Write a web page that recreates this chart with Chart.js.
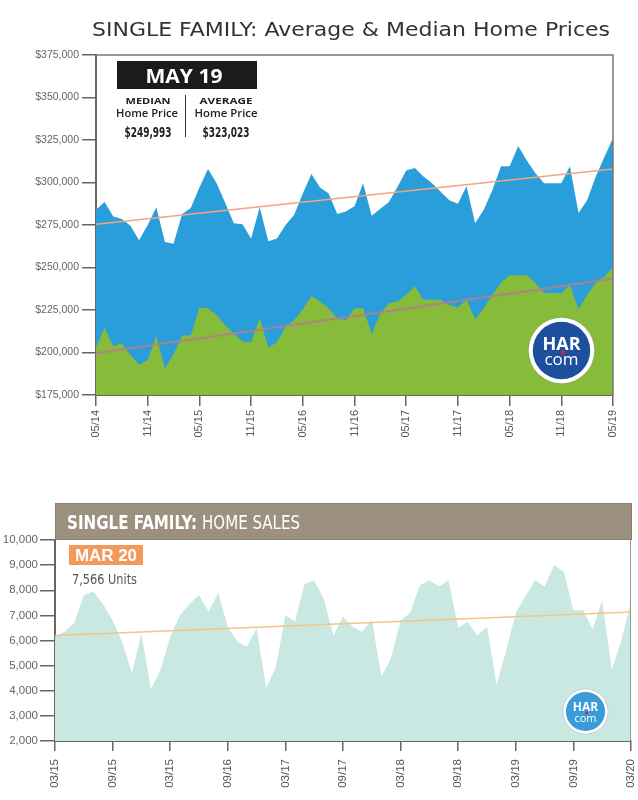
<!DOCTYPE html>
<html>
<head>
<meta charset="utf-8">
<script src="https://cdn.jsdelivr.net/npm/chart.js@4.4.1/dist/chart.umd.min.js"></script>
<style>
  html, body { margin: 0; padding: 0; background: #fff; }
  #wrap { position: relative; width: 638px; height: 800px; }
  #priceChart { position: absolute; left: 0; top: 0; }
  #salesChart { position: absolute; left: 0; top: 490px; }
</style>
</head>
<body>
<div id="wrap">
  <canvas id="priceChart" width="638" height="450"></canvas>
  <canvas id="salesChart" width="638" height="310"></canvas>
</div>
<script>
// top chart: monthly prices, May 2014 - May 2019
const priceMonths = [
  "05/14","06/14","07/14","08/14","09/14","10/14","11/14","12/14",
  "01/15","02/15","03/15","04/15","05/15","06/15","07/15","08/15","09/15","10/15","11/15","12/15",
  "01/16","02/16","03/16","04/16","05/16","06/16","07/16","08/16","09/16","10/16","11/16","12/16",
  "01/17","02/17","03/17","04/17","05/17","06/17","07/17","08/17","09/17","10/17","11/17","12/17",
  "01/18","02/18","03/18","04/18","05/18","06/18","07/18","08/18","09/18","10/18","11/18","12/18",
  "01/19","02/19","03/19","04/19","05/19"
];
const priceTickLabels = ["05/14","11/14","05/15","11/15","05/16","11/16","05/17","11/17","05/18","11/18","05/19"];

const averagePrice = [
  284000, 288500, 280000, 278500, 274500, 266000, 275000, 285500, 265000, 264000,
  281500, 285000, 297000, 308000, 299500, 288000, 276000, 275500, 267000, 285500,
  265500, 267000, 275000, 281000, 293500, 305000, 297000, 293500, 281500, 283000,
  286000, 299500, 280500, 284500, 288500, 297500, 307000, 308500, 303500, 299500,
  294500, 289500, 287500, 298000, 276000, 284000, 295500, 309500, 309500, 321500,
  313000, 305500, 299500, 299500, 299500, 309500, 282000, 289500, 303500, 315000,
  326000
];
const medianPrice = [
  203000, 214500, 203500, 205500, 198500, 193000, 195500, 209500, 190500, 199000,
  210000, 210000, 226500, 226000, 222000, 216000, 211000, 206500, 206000, 220000,
  203000, 206000, 215000, 219000, 225500, 233300, 230000, 226000, 220000, 219000,
  226000, 226000, 211000, 223000, 229000, 230000, 234000, 239000, 231000, 231000,
  231000, 228000, 226500, 231000, 219500, 226000, 234000, 241000, 245500, 245500,
  245500, 241000, 235000, 235000, 235000, 239500, 225500, 234000, 241000, 244500,
  250000
];
// trend lines: value at first and last month
const averageTrend = [275500, 308000];
const medianTrend = [199600, 243400];

// bottom chart: monthly home sales, Mar 2015 - Mar 2020
const salesMonths = [
  "03/15","04/15","05/15","06/15","07/15","08/15","09/15","10/15","11/15","12/15",
  "01/16","02/16","03/16","04/16","05/16","06/16","07/16","08/16","09/16","10/16","11/16","12/16",
  "01/17","02/17","03/17","04/17","05/17","06/17","07/17","08/17","09/17","10/17","11/17","12/17",
  "01/18","02/18","03/18","04/18","05/18","06/18","07/18","08/18","09/18","10/18","11/18","12/18",
  "01/19","02/19","03/19","04/19","05/19","06/19","07/19","08/19","09/19","10/19","11/19","12/19",
  "01/20","02/20","03/20"
];
const salesTickLabels = ["03/15","09/15","03/15","09/16","03/17","09/17","03/18","09/18","03/19","09/19","03/20"];

const homeSales = [
  6150, 6350, 6700, 7800, 7950, 7450, 6800, 5950, 4700, 6250,
  4050, 4850, 6150, 7000, 7450, 7800, 7150, 7900, 6550, 5950,
  5750, 6500, 4100, 4950, 7000, 6750, 8250, 8400, 7650, 6200,
  6950, 6550, 6350, 6850, 4550, 5300, 6800, 7100, 8200, 8400,
  8150, 8400, 6500, 6750, 6200, 6550, 4250, 5600, 7100, 7750,
  8400, 8150, 9000, 8750, 7200, 7200, 6450, 7600, 4850, 6000,
  7566
];
const salesTrend = [6200, 7130];

const narrow = "'Liberation Sans Narrow', 'DejaVu Sans Condensed', sans-serif";

// draw text squeezed or stretched to a given width
function fitText(ctx, text, x, y, width, align) {
  const w = ctx.measureText(text).width;
  const sx = width / w;
  ctx.save();
  ctx.textAlign = "left";
  let left = x;
  if (align === "center") left = x - width / 2;
  if (align === "right") left = x - width;
  ctx.translate(left, y);
  ctx.scale(sx, 1);
  ctx.fillText(text, 0, 0);
  ctx.restore();
}

function drawLogo(ctx, cx, cy, r, fill, big) {
  ctx.save();
  ctx.fillStyle = "#fff";
  ctx.beginPath();
  ctx.arc(cx, cy, r, 0, Math.PI * 2);
  ctx.fill();
  ctx.strokeStyle = "rgba(0,0,0,0.12)";
  ctx.lineWidth = 1;
  ctx.stroke();
  ctx.fillStyle = fill;
  ctx.beginPath();
  ctx.arc(cx, cy, r * 0.87, 0, Math.PI * 2);
  ctx.fill();
  ctx.fillStyle = "#fff";
  ctx.textAlign = "center";
  ctx.textBaseline = "alphabetic";
  ctx.font = "bold " + big + "px 'Open Sans', sans-serif";
  ctx.fillText("HAR", cx, cy - r * 0.02);
  ctx.font = Math.round(big * 0.95) + "px 'Open Sans', sans-serif";
  ctx.fillText("com", cx, cy + r * 0.45);
  ctx.fillStyle = "#d0253a";
  ctx.beginPath();
  ctx.arc(cx + r * 0.05, cy + r * 0.06, r * 0.07, 0, Math.PI * 2);
  ctx.fill();
  ctx.restore();
}

const priceExtras = {
  id: "priceExtras",
  afterDraw(chart) {
    const ctx = chart.ctx;
    const a = chart.chartArea;
    ctx.save();
    ctx.strokeStyle = "#777";
    ctx.lineWidth = 1.5;
    ctx.beginPath();
    ctx.moveTo(a.left, a.top);
    ctx.lineTo(a.right, a.top);
    ctx.lineTo(a.right, a.bottom);
    ctx.stroke();

    ctx.fillStyle = "#333";
    ctx.font = "20px 'DejaVu Sans', sans-serif";
    fitText(ctx, "SINGLE FAMILY: Average & Median Home Prices", 92, 36, 518, "left");

    // MAY 19 box
    ctx.fillStyle = "#1b1b1b";
    ctx.fillRect(117, 61, 140, 28);
    ctx.fillStyle = "#fff";
    ctx.font = "bold 20px 'Open Sans', sans-serif";
    fitText(ctx, "MAY 19", 184, 83, 77, "center");

    ctx.fillStyle = "#222";
    ctx.font = "bold 9px 'Open Sans', sans-serif";
    fitText(ctx, "MEDIAN", 148, 104, 45, "center");
    fitText(ctx, "AVERAGE", 226, 104, 53, "center");
    ctx.font = "600 10px 'Open Sans', sans-serif";
    fitText(ctx, "Home Price", 147, 117, 62, "center");
    fitText(ctx, "Home Price", 226, 117, 63, "center");
    ctx.font = "bold 14px " + narrow;
    fitText(ctx, "$249,993", 148, 137, 47, "center");
    fitText(ctx, "$323,023", 226, 137, 47, "center");
    ctx.strokeStyle = "#333";
    ctx.lineWidth = 1;
    ctx.beginPath();
    ctx.moveTo(185.5, 95);
    ctx.lineTo(185.5, 137);
    ctx.stroke();
    ctx.restore();

    drawLogo(ctx, 561.5, 350.5, 33, "#1d4f9e", 18);
  }
};

const salesExtras = {
  id: "salesExtras",
  afterDraw(chart) {
    const ctx = chart.ctx;
    const a = chart.chartArea;
    ctx.save();
    ctx.strokeStyle = "#999";
    ctx.lineWidth = 1;
    ctx.beginPath();
    ctx.moveTo(a.right - 0.5, a.top);
    ctx.lineTo(a.right - 0.5, a.bottom);
    ctx.stroke();

    // header band
    ctx.fillStyle = "#9c917e";
    ctx.fillRect(a.left, a.top - 37, a.right - a.left + 1, 37);
    ctx.strokeStyle = "#8a8070";
    ctx.strokeRect(a.left + 0.5, a.top - 36.5, a.right - a.left, 36);
    ctx.fillStyle = "#fff";
    ctx.font = "bold 19px " + narrow;
    fitText(ctx, "SINGLE FAMILY:", 67, 39, 130, "left");
    ctx.font = "19px " + narrow;
    fitText(ctx, "HOME SALES", 202, 39, 98, "left");

    // MAR 20 badge
    ctx.fillStyle = "#f29a5c";
    ctx.fillRect(69, 55, 74, 20);
    ctx.fillStyle = "#fff";
    ctx.font = "bold 16px 'Liberation Sans', sans-serif";
    fitText(ctx, "MAR 20", 106, 71, 62, "center");
    ctx.fillStyle = "#555";
    ctx.font = "14px " + narrow;
    fitText(ctx, "7,566 Units", 72, 94, 65, "left");
    ctx.restore();

    drawLogo(ctx, 585.5, 221.5, 22.5, "#3b9ad8", 12);
  }
};

function everySixth(labels) {
  return function (value, index) {
    return index % 6 === 0 ? labels[index / 6] : null;
  };
}

// fixed axis sizes so the plot boxes land where the reference puts them
function fixHeight(h) {
  return function (s) {
    s.height = h;
    s.paddingLeft = 0;
    s.paddingRight = 0;
  };
}

new Chart(document.getElementById("priceChart"), {
  type: "line",
  data: {
    labels: priceMonths,
    datasets: [
      {
        data: [{ x: priceMonths[0], y: averageTrend[0] }, { x: priceMonths[priceMonths.length - 1], y: averageTrend[1] }],
        borderColor: "#f2a57e",
        borderWidth: 1.5,
        pointRadius: 0,
        fill: false,
      },
      {
        data: [{ x: priceMonths[0], y: medianTrend[0] }, { x: priceMonths[priceMonths.length - 1], y: medianTrend[1] }],
        borderColor: "rgba(176, 128, 140, 0.9)",
        borderWidth: 2,
        pointRadius: 0,
        fill: false,
      },
      {
        label: "Median",
        data: medianPrice,
        backgroundColor: "#87bb3a",
        borderWidth: 0,
        pointRadius: 0,
        tension: 0,
        fill: "start",
      },
      {
        label: "Average",
        data: averagePrice,
        backgroundColor: "#2a9edb",
        borderWidth: 0,
        pointRadius: 0,
        tension: 0,
        fill: "start",
      },
    ],
  },
  options: {
    responsive: false,
    animation: false,
    layout: { padding: { top: 55, right: 25, left: 0, bottom: 0 } },
    plugins: { legend: { display: false }, tooltip: { enabled: false } },
    scales: {
      x: {
        offset: false,
        ticks: {
          autoSkip: false,
          maxRotation: 90,
          minRotation: 90,
          color: "#555",
          font: { size: 11, family: "'Liberation Sans', sans-serif" },
          padding: 4,
          callback: everySixth(priceTickLabels),
        },
        grid: { drawOnChartArea: false, offset: false, tickLength: 11, color: "#666", lineWidth: 1.5 },
        border: { color: "#666", width: 2 },
        afterFit: fixHeight(55),
      },
      y: {
        min: 175000,
        max: 375000,
        ticks: {
          stepSize: 25000,
          color: "#666",
          font: { size: 10.5, family: "'Liberation Sans', sans-serif" },
          padding: 3,
          callback: (v) => "$" + v.toLocaleString("en-US"),
        },
        grid: { drawOnChartArea: false, tickLength: 14, color: "#666", lineWidth: 1.5 },
        border: { color: "#666", width: 2 },
        afterFit: (s) => { s.width = 96; },
      },
    },
  },
  plugins: [priceExtras],
});

new Chart(document.getElementById("salesChart"), {
  type: "line",
  data: {
    labels: salesMonths,
    datasets: [
      {
        data: [{ x: salesMonths[0], y: salesTrend[0] }, { x: salesMonths[salesMonths.length - 1], y: salesTrend[1] }],
        borderColor: "#f4c684",
        borderWidth: 1.5,
        pointRadius: 0,
        fill: false,
      },
      {
        label: "Home Sales",
        data: homeSales,
        backgroundColor: "#cae8e2",
        borderWidth: 0,
        pointRadius: 0,
        tension: 0,
        fill: "start",
      },
    ],
  },
  options: {
    responsive: false,
    animation: false,
    layout: { padding: { top: 50, right: 7, left: 0, bottom: 0 } },
    plugins: { legend: { display: false }, tooltip: { enabled: false } },
    scales: {
      x: {
        offset: false,
        ticks: {
          autoSkip: false,
          maxRotation: 90,
          minRotation: 90,
          color: "#555",
          font: { size: 11.5, family: "'Liberation Sans', sans-serif" },
          padding: 8,
          callback: everySixth(salesTickLabels),
        },
        grid: { drawOnChartArea: false, offset: false, tickLength: 10, color: "#666", lineWidth: 1.5 },
        border: { color: "#666", width: 2 },
        afterFit: fixHeight(59),
      },
      y: {
        min: 2000,
        max: 10000,
        ticks: {
          stepSize: 1000,
          color: "#666",
          font: { size: 11.5, family: "'Liberation Sans', sans-serif" },
          padding: 2,
          callback: (v) => v.toLocaleString("en-US"),
        },
        grid: { drawOnChartArea: false, tickLength: 15, color: "#666", lineWidth: 1.5 },
        border: { color: "#666", width: 2 },
        afterFit: (s) => { s.width = 55; },
      },
    },
  },
  plugins: [salesExtras],
});
</script>
</body>
</html>
